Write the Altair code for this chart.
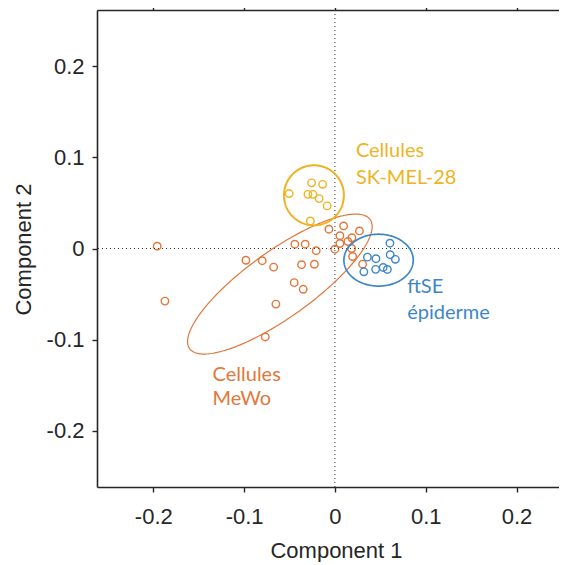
import altair as alt
import numpy as np
import pandas as pd

# ---- data ----
mewo_x = [-0.1957, -0.1872, -0.0980, -0.0800, -0.0675, -0.0650, -0.0767, -0.0441, -0.0327,
          -0.0206, -0.0367, -0.0226, -0.0448, -0.0349, -0.0066, 0.0096, 0.0270, 0.0055,
          0.0187, 0.0143, 0.0055, 0.0000, 0.0184, 0.0195, 0.0305]
mewo_y = [0.0025, -0.0578, -0.0129, -0.0134, -0.0205, -0.0611, -0.0972, 0.0047, 0.0047,
          -0.0024, -0.0178, -0.0173, -0.0375, -0.0448, 0.0212, 0.0248, 0.0193, 0.0140,
          0.0118, 0.0077, 0.0055, -0.0008, 0.0000, -0.0088, -0.0172]
skmel_x = [-0.0257, -0.0135, -0.0504, -0.0297, -0.0242, -0.0173, -0.0085, -0.0270]
skmel_y = [0.0721, 0.0705, 0.0604, 0.0595, 0.0595, 0.0548, 0.0468, 0.0302]
ftse_x = [0.0606, 0.0358, 0.0452, 0.0609, 0.0666, 0.0319, 0.0449, 0.0532, 0.0578]
ftse_y = [0.0058, -0.0095, -0.0112, -0.0068, -0.0119, -0.0256, -0.0229, -0.0208, -0.0230]

groups = ["MeWo", "SK-MEL-28", "ftSE"]
colors = ["#E2773B", "#EFB321", "#3D87C9"]

# ellipse parameters: centre x, centre y, semi-axis a, semi-axis b, angle (deg), line width
ell_cx = [-0.0606, -0.0231, 0.0481]
ell_cy = [-0.0391, 0.0584, -0.0128]
ell_a = [0.1221, 0.0330, 0.0382]
ell_b = [0.0365, 0.0330, 0.0285]
ell_ang = [35.5, 0.0, 0.0]
ell_w = [1.2, 2.0, 1.7]

label_text = ["Cellules", "SK-MEL-28", "ftSE", "épiderme", "Cellules", "MeWo"]
label_group = ["SK-MEL-28", "SK-MEL-28", "ftSE", "ftSE", "MeWo", "MeWo"]
label_x = [0.0231, 0.0231, 0.0796, 0.0796, -0.1347, -0.1347]
label_y = [0.1009, 0.0709, -0.0492, -0.0772, -0.1453, -0.1720]

tick_vals = [-0.2, -0.1, 0.0, 0.1, 0.2]

# ---- tables ----
pts = pd.concat([
    pd.DataFrame({"x": mewo_x, "y": mewo_y, "group": "MeWo"}),
    pd.DataFrame({"x": skmel_x, "y": skmel_y, "group": "SK-MEL-28"}),
    pd.DataFrame({"x": ftse_x, "y": ftse_y, "group": "ftSE"}),
], ignore_index=True)

t = np.linspace(0, 2 * np.pi, 241)
ell_rows = []
for g, cx, cy, a, b, ang, w in zip(groups, ell_cx, ell_cy, ell_a, ell_b, ell_ang, ell_w):
    p = np.deg2rad(ang)
    ex = cx + a * np.cos(t) * np.cos(p) - b * np.sin(t) * np.sin(p)
    ey = cy + a * np.cos(t) * np.sin(p) + b * np.sin(t) * np.cos(p)
    ell_rows.append(pd.DataFrame({"x": ex, "y": ey, "i": np.arange(len(t)), "group": g, "w": w}))
ell = pd.concat(ell_rows, ignore_index=True)

labels = pd.DataFrame({"x": label_x, "y": label_y, "text": label_text, "group": label_group})
zero = pd.DataFrame({"v": [0.0]})

xs = alt.Scale(domain=[-0.262, 0.2468], nice=False, zero=False)
ys = alt.Scale(domain=[-0.262, 0.262], nice=False, zero=False)
cs = alt.Scale(domain=groups, range=colors)

lab_expr = "datum.value == 0 ? '0' : toString(round(datum.value*10)/10)"

x_axis = alt.Axis(orient="bottom", values=tick_vals, labelExpr=lab_expr, title="Component 1",
                  labelPadding=14, titleBaseline="alphabetic", titleY=70, titleX=239,
                  titleAnchor="middle")
y_axis = alt.Axis(orient="left", values=tick_vals, labelExpr=lab_expr, title="Component 2",
                  labelPadding=8, titleBaseline="alphabetic", titleX=-67, titleY=239,
                  titleAngle=-90, titleAnchor="middle")
x_top = alt.Axis(orient="top", values=tick_vals, labels=False, title=None)

vrule = alt.Chart(zero).mark_rule(color="#333333", strokeWidth=1, strokeDash=[1, 3]).encode(
    x=alt.X("v:Q", scale=xs, axis=x_top)
)
hrule = alt.Chart(zero).mark_rule(color="#333333", strokeWidth=1, strokeDash=[1, 3]).encode(
    y=alt.Y("v:Q", scale=ys, axis=None)
)

ellipses = alt.Chart(ell).mark_line(strokeCap="round").encode(
    x=alt.X("x:Q", scale=xs, axis=None),
    y=alt.Y("y:Q", scale=ys, axis=None),
    order="i:Q",
    detail="group:N",
    color=alt.Color("group:N", scale=cs, legend=None),
    strokeWidth=alt.StrokeWidth("w:Q", scale=None),
)

points = alt.Chart(pts).mark_point(filled=False, size=56, strokeWidth=1.4, opacity=1).encode(
    x=alt.X("x:Q", scale=xs, axis=x_axis),
    y=alt.Y("y:Q", scale=ys, axis=y_axis),
    color=alt.Color("group:N", scale=cs, legend=None),
)

texts = alt.Chart(labels).mark_text(align="left", baseline="alphabetic", font="Lato",
                                    fontSize=20).encode(
    x=alt.X("x:Q", scale=xs, axis=None),
    y=alt.Y("y:Q", scale=ys, axis=None),
    text="text:N",
    color=alt.Color("group:N", scale=cs, legend=None),
)

chart = alt.layer(points, vrule, hrule, ellipses, texts).resolve_axis(
    x="independent", y="independent"
).properties(
    width=462, height=477,
    autosize=alt.AutoSizeParams(type="none"),
    padding={"left": 89, "top": 2, "right": 0, "bottom": 75},
).configure_view(stroke=None).configure_axis(
    grid=False,
    domainColor="#262626", domainWidth=1.6,
    tickColor="#262626", tickWidth=1.4, tickSize=5,
    labelFont="Liberation Sans", labelFontSize=22, labelColor="#262626",
    titleFont="Liberation Sans", titleFontSize=22, titleColor="#262626", titleFontWeight="normal",
)

chart.save("out.html", embed_options={"renderer": "svg", "actions": False})
